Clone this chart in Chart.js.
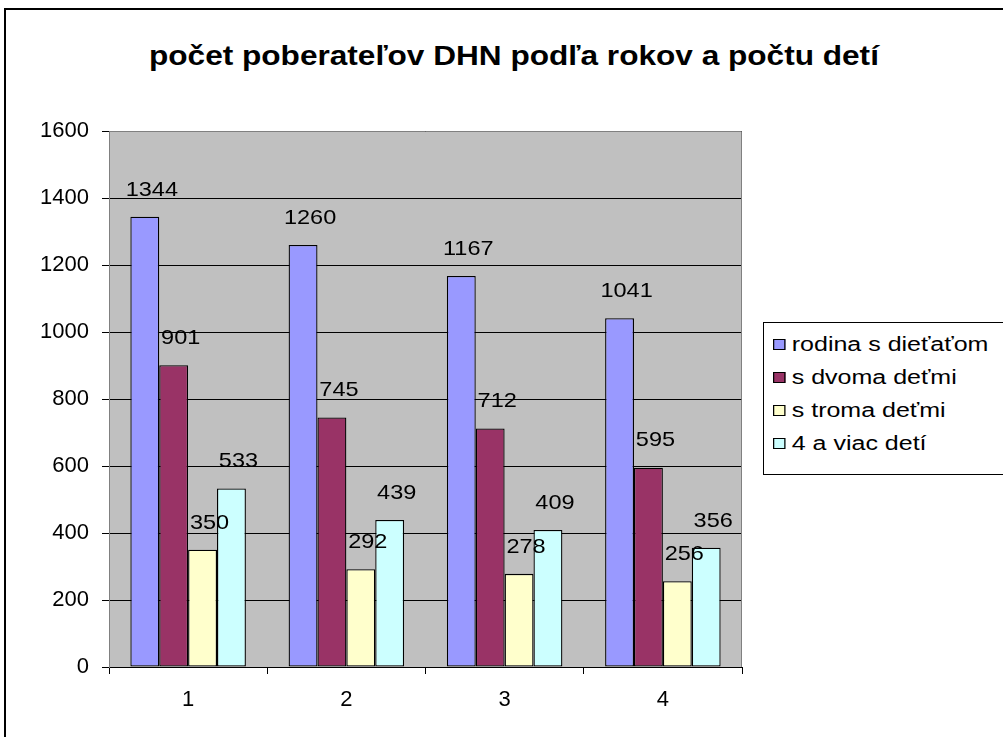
<!DOCTYPE html>
<html><head><meta charset="utf-8">
<script src="https://cdn.jsdelivr.net/npm/chart.js@4.4.0/dist/chart.umd.min.js"></script>
<style>
html,body{margin:0;padding:0;background:#fff;width:1003px;height:737px;overflow:hidden;font-family:"Liberation Sans",Arial,sans-serif;}
#frame{position:absolute;left:4px;top:8px;width:1040px;height:760px;border:2px solid #000;box-sizing:border-box;}
#title{position:absolute;left:0;width:1028px;top:41px;text-align:center;font-weight:bold;font-size:27px;color:#000;}
#title span{display:inline-block;transform:scaleX(1.17);transform-origin:center;}
#legend{position:absolute;left:763px;top:322px;width:260px;height:153px;border:1px solid #000;box-sizing:border-box;background:#fff;}
.li{position:absolute;left:9px;font-size:20px;line-height:20px;color:#000;white-space:nowrap;transform:scaleX(1.25);transform-origin:left center;}
.sw{display:inline-block;width:8px;height:9px;border:1px solid #000;margin-right:5px;vertical-align:1px;}
canvas{position:absolute;left:0;top:0;}
</style></head>
<body>
<div id="frame"></div>
<div id="title"><span>počet poberateľov DHN podľa rokov a počtu detí</span></div>
<canvas id="c" width="1003" height="737"></canvas>
<div id="legend"></div>
<script>
const categories = ["1","2","3","4"];
const seriesNames = ["rodina s dieťaťom","s dvoma deťmi","s troma deťmi","4 a viac detí"];
const rodina = [1344,1260,1167,1041];
const dvoma = [901,745,712,595];
const troma = [350,292,278,256];
const viac = [533,439,409,356];
const yTicks = [0,200,400,600,800,1000,1200,1400,1600];
const colors = ["#9999FF","#993366","#FFFFCC","#CCFFFF"];

const seriesValues = [rodina,dvoma,troma,viac];
const datasets = seriesNames.map((n,i)=>({label:n,data:seriesValues[i],backgroundColor:colors[i],borderColor:"#000",borderWidth:1.3,borderSkipped:false,categoryPercentage:0.73,barPercentage:1.0}));

const lg = document.getElementById('legend');
seriesNames.forEach((n,i)=>{
  const d=document.createElement('div');d.className='li';d.style.top=(11+i*33)+'px';
  d.innerHTML='<span class="sw" style="background:'+colors[i]+'"></span>'+n;
  lg.appendChild(d);
});

const FONT='"Liberation Sans", Arial, sans-serif';
const bgPlugin={id:'bg',beforeDraw(ch){const a=ch.chartArea,c=ch.ctx;c.save();c.fillStyle='#C0C0C0';c.fillRect(a.left,a.top,a.right-a.left,a.bottom-a.top);c.restore();},
 afterDraw(ch){const a=ch.chartArea,c=ch.ctx;c.save();c.strokeStyle='#808080';c.lineWidth=1;c.beginPath();c.moveTo(a.left,a.top+0.5);c.lineTo(a.right-0.5,a.top+0.5);c.lineTo(a.right-0.5,a.bottom);c.stroke();c.restore();}};
const lblPlugin={id:'lbl',afterDatasetsDraw(ch){const c=ch.ctx;
 ch.data.datasets.forEach((ds,i)=>{ch.getDatasetMeta(i).data.forEach((b,j)=>{
   c.save();c.translate(b.x+7,b.y-27);c.scale(1.12,1);
   c.font='21px '+FONT;c.fillStyle='#000';c.textAlign='center';c.textBaseline='middle';
   c.fillText(String(ds.data[j]),0,0);c.restore();});});}};

new Chart(document.getElementById('c'),{
 type:'bar',
 data:{labels:categories,datasets},
 options:{responsive:false,animation:false,
  layout:{padding:{left:0,top:131,right:261,bottom:0}},
  plugins:{legend:{display:false},title:{display:false},tooltip:{enabled:false}},
  scales:{
   x:{grid:{display:true,drawOnChartArea:false,drawTicks:true,tickLength:7,color:'#000',offset:true},border:{color:'#000',width:1},
      ticks:{color:'#000',font:{family:FONT,size:22},padding:13},
      afterFit(s){s.height=70;}},
   y:{min:0,max:1600,afterBuildTicks(s){s.ticks=yTicks.map(v=>({value:v}));},
      grid:{color:'#000',lineWidth:1,tickLength:7},border:{color:'#808080',width:1},
      ticks:{color:'#000',font:{family:FONT,size:22},padding:13,callback:(v)=>String(v)},
      afterFit(s){s.width=109;}}
  }},
 plugins:[bgPlugin,lblPlugin]
});
</script>
</body></html>
